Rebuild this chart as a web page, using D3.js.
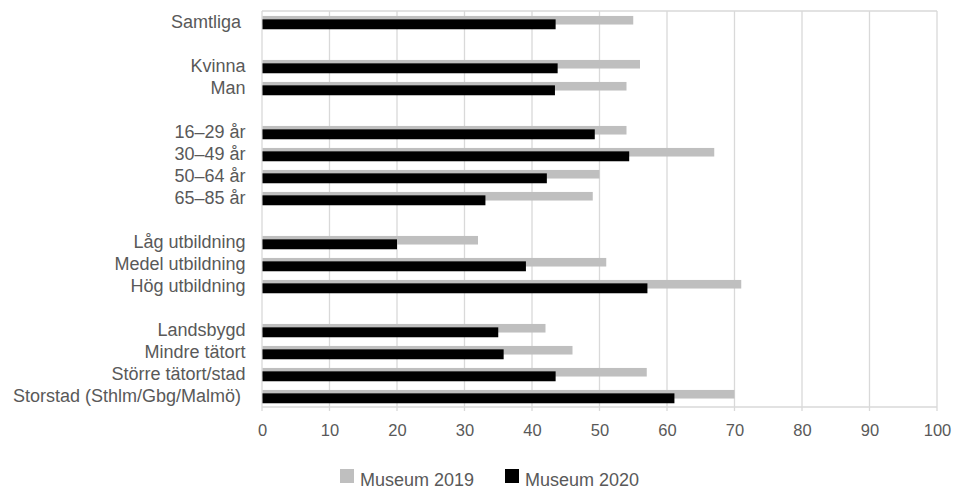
<!DOCTYPE html>
<html><head><meta charset="utf-8">
<script src="https://cdn.jsdelivr.net/npm/d3@7"></script>
<style>body{margin:0;background:#fff}svg{font-family:"Liberation Sans",Arial,sans-serif}</style>
</head><body><svg id="c" width="954" height="489"></svg>
<script>
const categories = ["Samtliga","_b1","Kvinna","Man","_b2","16–29 år","30–49 år","50–64 år","65–85 år","_b3","Låg utbildning","Medel utbildning","Hög utbildning","_b4","Landsbygd","Mindre tätort","Större tätort/stad","Storstad (Sthlm/Gbg/Malmö)"];
const museum2019 = [55,null,56,54,null,54,67,50,49,null,32,51,71,null,42,46,57,70];
const museum2020 = [43.5,null,43.8,43.4,null,49.3,54.4,42.2,33.1,null,20,39.1,57.1,null,35,35.8,43.5,61.1];
const xTicks = [0,10,20,30,40,50,60,70,80,90,100];
const seriesNames = ["Museum 2019","Museum 2020"];

const svg = d3.select("#c");
const m = {l:262, r:937, t:11, b:407};
const x = d3.scaleLinear().domain([0,100]).range([m.l,m.r]);
const y = d3.scaleBand().domain(categories).range([m.t,m.b]);
const bw = y.bandwidth();
const grid = "#d9d9d9", txt = "#595959";

// gridlines
svg.append("g").selectAll("line").data(xTicks).join("line")
  .attr("x1",d=>x(d)).attr("x2",d=>x(d)).attr("y1",m.t).attr("y2",m.b+4)
  .attr("stroke",grid).attr("stroke-width",1.3);
svg.append("line").attr("x1",m.l).attr("x2",m.r).attr("y1",m.t).attr("y2",m.t).attr("stroke",grid).attr("stroke-width",1.3);
svg.append("line").attr("x1",m.l).attr("x2",m.r).attr("y1",m.b).attr("y2",m.b).attr("stroke",grid).attr("stroke-width",1.3);

const rows = categories.map((c,i)=>({c, a:museum2019[i], b:museum2020[i]})).filter(d=>d.a!=null);
svg.append("g").selectAll("rect").data(rows).join("rect")
  .attr("x",x(0)+0.5).attr("y",d=>y(d.c)+bw*0.225).attr("height",bw*0.39)
  .attr("width",d=>x(d.a)-x(0)-0.5).attr("fill","#bfbfbf");
svg.append("g").selectAll("rect").data(rows).join("rect")
  .attr("x",x(0)+0.5).attr("y",d=>y(d.c)+bw*0.38).attr("height",bw*0.45)
  .attr("width",d=>x(d.b)-x(0)-0.5).attr("fill","#000");

// category labels
const shifted = new Set(["Samtliga","Storstad (Sthlm/Gbg/Malmö)"]);
svg.append("g").selectAll("text").data(rows).join("text")
  .attr("x",d=>shifted.has(d.c)?241:245.5).attr("y",d=>y(d.c)+bw/2).attr("dy","0.36em")
  .attr("text-anchor","end").attr("fill",txt).attr("font-size",18).text(d=>d.c);

// x tick labels
const ax = svg.append("g").attr("transform",`translate(0,${m.b})`).call(d3.axisBottom(x).tickValues(xTicks).tickSize(0).tickPadding(17));
ax.select(".domain").remove();
ax.selectAll("text").attr("fill",txt).attr("font-size",16.5).attr("font-family","Liberation Sans, Arial, sans-serif");

// legend
const lg = svg.append("g");
const legendX = [340,505], colors = ["#bfbfbf","#000"];
seriesNames.forEach((n,i)=>{
  lg.append("rect").attr("x",legendX[i]).attr("y",469).attr("width",14).attr("height",14).attr("fill",colors[i]);
  lg.append("text").attr("x",legendX[i]+20).attr("y",485.5).attr("fill",txt).attr("font-size",18).text(n);
});
</script></body></html>
